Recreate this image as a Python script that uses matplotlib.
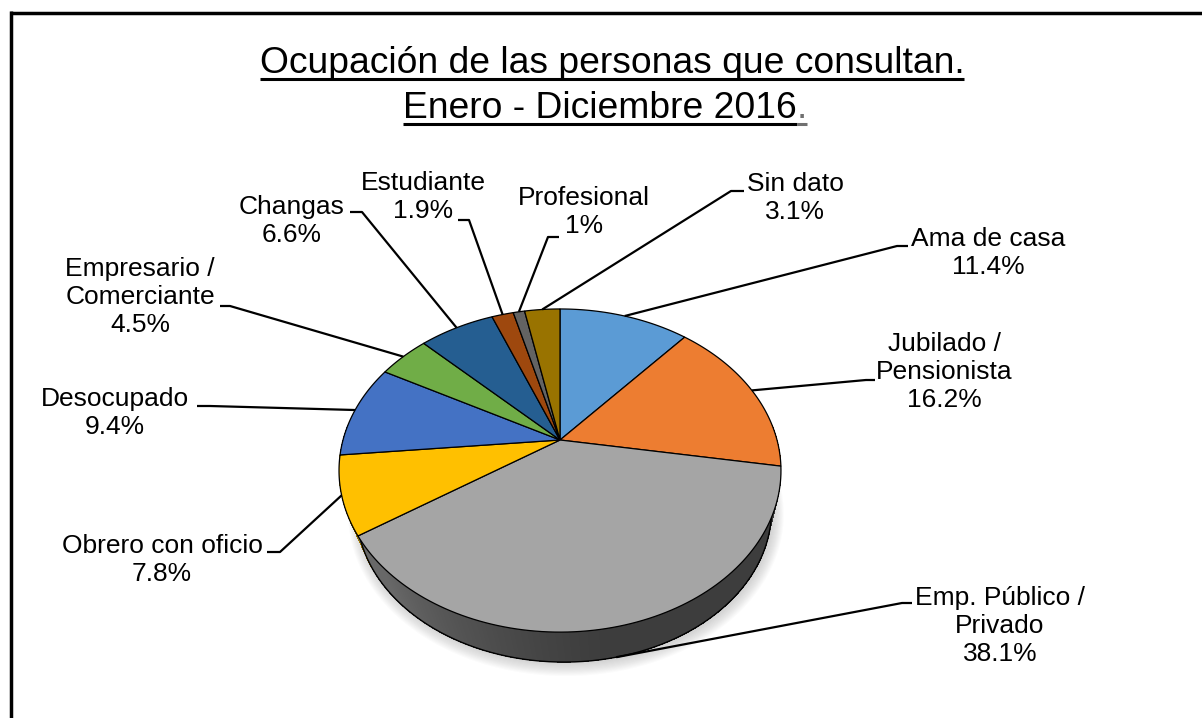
import numpy as np
import matplotlib
matplotlib.use('Agg')
import matplotlib.pyplot as plt
from matplotlib.patches import Polygon
from matplotlib.colors import to_rgb

### data
categories = ['Ama de casa', 'Jubilado /\nPensionista', 'Emp. Público /\nPrivado',
              'Obrero con oficio', 'Desocupado', 'Empresario /\nComerciante',
              'Changas', 'Estudiante', 'Profesional', 'Sin dato']
values = [11.4, 16.2, 38.1, 7.8, 9.4, 4.5, 6.6, 1.9, 1.0, 3.1]
value_labels = ['11.4%', '16.2%', '38.1%', '7.8%', '9.4%', '4.5%', '6.6%', '1.9%', '1%', '3.1%']
colors = ['#5B9BD5', '#ED7D31', '#A5A5A5', '#FFC000', '#4472C4',
          '#70AD47', '#255E91', '#9E480E', '#636363', '#997300']

title1 = 'Ocupación de las personas que consultan.'
title2 = 'Enero - Diciembre 2016'

### layout (pixel coords, y down)
W, H = 1202, 718
CX, CY = 560, 440            # pie apex
R, K, P = 217, 155.8, 0.189  # radius, vertical squash, perspective
BS, BDX, BDY = 0.939, 4, 41.7  # bottom face: shrink, shift x, drop

label_pos = [(988, 253), (944, 372), (1000, 626), (162, 560), (115, 413),
             (140, 297), (292, 221), (423, 197), (584, 212), (795, 198)]
hooks = [((908, 246), (897, 246)), ((875, 380), (866, 380)), ((912, 603), (902, 603)),
         ((267, 552), (280, 552)), ((197, 406), (210, 406)), ((220, 306), (230, 306)),
         ((350, 212), (362, 212)), ((458, 220), (469, 220)), ((559, 237), (548, 237)),
         ((744, 191), (731, 191))]

FONT = 'Liberation Sans'


def proj(t, bottom=False):
    u, v = np.cos(t), np.sin(t)
    w = 1 + P * v
    if bottom:
        return CX + BDX + BS * R * u / w, CY - BS * K * v / w + BDY
    return CX + R * u / w, CY - K * v / w


fig = plt.figure(figsize=(W / 100, H / 100), dpi=100)
ax = fig.add_axes([0, 0, 1, 1])
ax.set_xlim(0, W)
ax.set_ylim(H, 0)
ax.axis('off')

vals = np.array(values)
cum = np.concatenate([[0], np.cumsum(vals)]) / vals.sum()
starts = np.deg2rad(90 - 360 * cum[:-1])
ends = np.deg2rad(90 - 360 * cum[1:])

### soft shadow under the pie
tt = np.linspace(0, 2 * np.pi, 200)
for k in range(12):
    sx, sy = proj(tt, bottom=True)
    sx = CX + BDX + (sx - CX - BDX) * (1 + 0.0045 * k) + 2
    sy = CY + BDY + (sy - CY - BDY) * (1 + 0.006 * k) + 2
    ax.fill(sx, sy, color='#7a7a7a', alpha=0.028, lw=0, zorder=1)


def slice_of(t):
    # index of the slice holding angle t (clockwise from 12 o'clock)
    frac = ((np.pi / 2 - t) / (2 * np.pi)) % 1.0
    return min(np.searchsorted(cum, frac, side='right') - 1, len(values) - 1)


### side wall (front half)
steps = np.deg2rad(np.arange(-186, 6.5, 0.5))
for e0, e1 in zip(steps[:-1], steps[1:]):
    tm = 0.5 * (e0 + e1)
    deg = np.rad2deg(tm)
    f = 0.37 + 0.26 * np.clip((-80 - deg) / 55, 0, 1) ** 1.3
    c = np.array(to_rgb(colors[slice_of(tm)])) * f
    seg = np.array([e0, e1 + 0.002])
    x1, y1 = proj(seg)
    x2, y2 = proj(seg[::-1], bottom=True)
    ax.fill(np.r_[x1, x2], np.r_[y1, y2], color=c, lw=0, antialiased=False, zorder=2)
bt = np.deg2rad(np.linspace(-186, 6, 200))
bx, by = proj(bt, bottom=True)
ax.plot(bx, by, color='black', lw=1, zorder=3)

### top face
for a0, a1, c in zip(starts, ends, colors):
    t = np.linspace(a0, a1, 100)
    x, y = proj(t)
    poly = Polygon(np.c_[np.r_[CX, x], np.r_[CY, y]], closed=True,
                   fc=c, ec='black', lw=0.9, zorder=4)
    ax.add_patch(poly)

### labels and leader lines
for i, (name, pct) in enumerate(zip(categories, value_labels)):
    tm = 0.5 * (starts[i] + ends[i])
    px, py = proj(tm)
    if np.sin(tm) < -0.5 and np.cos(tm) > 0:
        px, py = proj(tm, bottom=True)
    (hx0, hy0), (hx1, hy1) = hooks[i]
    ax.plot([hx0, hx1, px], [hy0, hy1, py], color='black', lw=1.6,
            solid_capstyle='butt', zorder=5)
    lx, ly = label_pos[i]
    ax.text(lx, ly, name + '\n' + pct, ha='center', va='center',
            fontsize=19, family=FONT, linespacing=1.22, zorder=6)

### title with underline
fig.canvas.draw()
rend = fig.canvas.get_renderer()
inv = ax.transData.inverted()


def underline(txt, y, color='black'):
    bb = txt.get_window_extent(renderer=rend)
    (x0, _), (x1, _) = inv.transform([[bb.x0, bb.y0], [bb.x1, bb.y1]])
    ax.plot([x0, x1], [y, y], color=color, lw=2.2, solid_capstyle='butt', zorder=6)
    return x1


t1 = ax.text(612, 73, title1, ha='center', va='baseline', fontsize=26.8, family=FONT)
underline(t1, 79)
t2 = ax.text(600, 118, title2, ha='center', va='baseline', fontsize=26.8, family=FONT)
xe = underline(t2, 124)
t3 = ax.text(xe, 118, '.', ha='left', va='baseline', fontsize=26.8, family=FONT,
             color='#707070')
underline(t3, 124, color='#707070')

### frame (top and left only)
ax.plot([10, W], [12.5, 12.5], color='black', lw=2.5, solid_capstyle='butt')
ax.plot([10.5, 10.5], [11, H], color='black', lw=2.5, solid_capstyle='butt')

fig.savefig('out.png', dpi=100)
